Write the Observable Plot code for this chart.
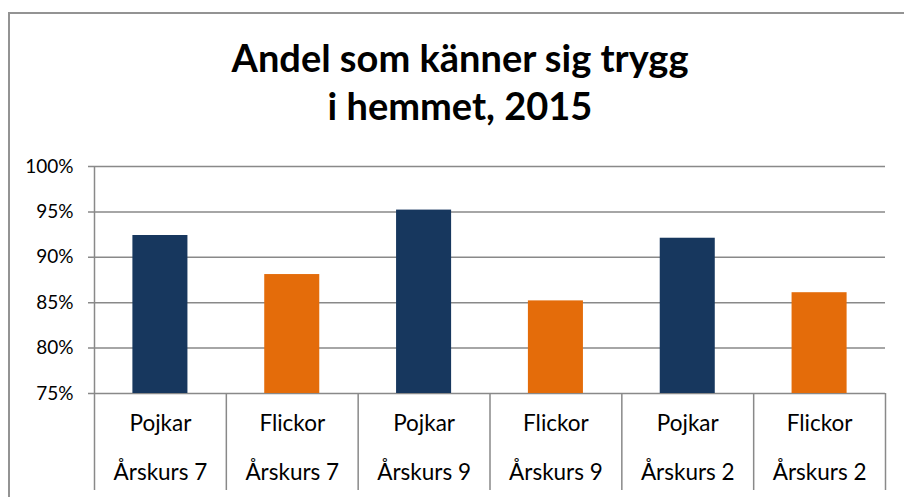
<!DOCTYPE html>
<html>
<head>
<meta charset="utf-8">
<script src="https://cdn.jsdelivr.net/npm/d3@7"></script>
<script src="https://cdn.jsdelivr.net/npm/@observablehq/plot@0.6"></script>
<style>
  html, body { margin: 0; padding: 0; background: #fff; }
  #wrap { position: relative; width: 904px; height: 497px; overflow: hidden; }
  #frame { position: absolute; left: 8px; top: 12px; width: 2000px; height: 2000px;
           border-left: 2px solid #939393; border-top: 2px solid #939393; }
  #title { position: relative; height: 140px; width: 920px; text-align: center;
           font-family: Lato, sans-serif; font-weight: bold; font-size: 38px; line-height: 48px;
           color: #000; box-sizing: border-box; padding-top: 33px; }
  #chart { position: relative; }
</style>
</head>
<body>
<div id="wrap">
  <div id="frame"></div>
  <div id="title">Andel som känner sig trygg<br>i hemmet, 2015</div>
  <div id="chart"></div>
</div>
<script>
const genders = ["Pojkar", "Flickor", "Pojkar", "Flickor", "Pojkar", "Flickor"];
const grades = ["Årskurs 7", "Årskurs 7", "Årskurs 9", "Årskurs 9", "Årskurs 2", "Årskurs 2"];
const values = [0.924, 0.881, 0.952, 0.852, 0.921, 0.861];
const yTicks = [0.75, 0.80, 0.85, 0.90, 0.95, 1.00];

const genderColors = {Pojkar: "#17375E", Flickor: "#E46C0A"};
const grey = "#898989";

const idx = values.map((_, i) => i);
const boundaries = d3.range(0, values.length + 1);

const chart = Plot.plot({
  width: 904,
  height: 357,
  marginTop: 26,
  marginBottom: 104,
  marginLeft: 94,
  marginRight: 19,
  x: {type: "linear", domain: [0, values.length]},
  y: {domain: [0.75, 1.0]},
  style: {fontFamily: "Lato, sans-serif", color: "#000", background: "transparent", overflow: "visible"},
  marks: [
    Plot.ruleY(yTicks, {y: d => d, stroke: grey, strokeWidth: 1.5, insetLeft: -6}),
    Plot.axisY({ticks: yTicks, tickSize: 0, tickPadding: 21, tickFormat: d3.format(".0%"), fontSize: 19}),
    Plot.rectY(idx, {
      x1: i => i, x2: i => i + 1, y1: 0.75, y2: i => values[i],
      fill: i => genderColors[genders[i]],
      insetLeft: 38.4, insetRight: 38.4
    }),
    Plot.ruleX([0], {stroke: grey, strokeWidth: 1.5}),
    Plot.axisX({ticks: boundaries, tickSize: 97, tickFormat: () => "", stroke: grey, strokeWidth: 1.5}),
    Plot.text(idx, {x: i => i + 0.5, text: i => genders[i], frameAnchor: "bottom", dy: 30, fontSize: 22.5, lineAnchor: "middle"}),
    Plot.text(idx, {x: i => i + 0.5, text: i => grades[i], frameAnchor: "bottom", dy: 79, fontSize: 22.5, lineAnchor: "middle"})
  ]
});
document.getElementById("chart").appendChild(chart);
</script>
</body>
</html>
